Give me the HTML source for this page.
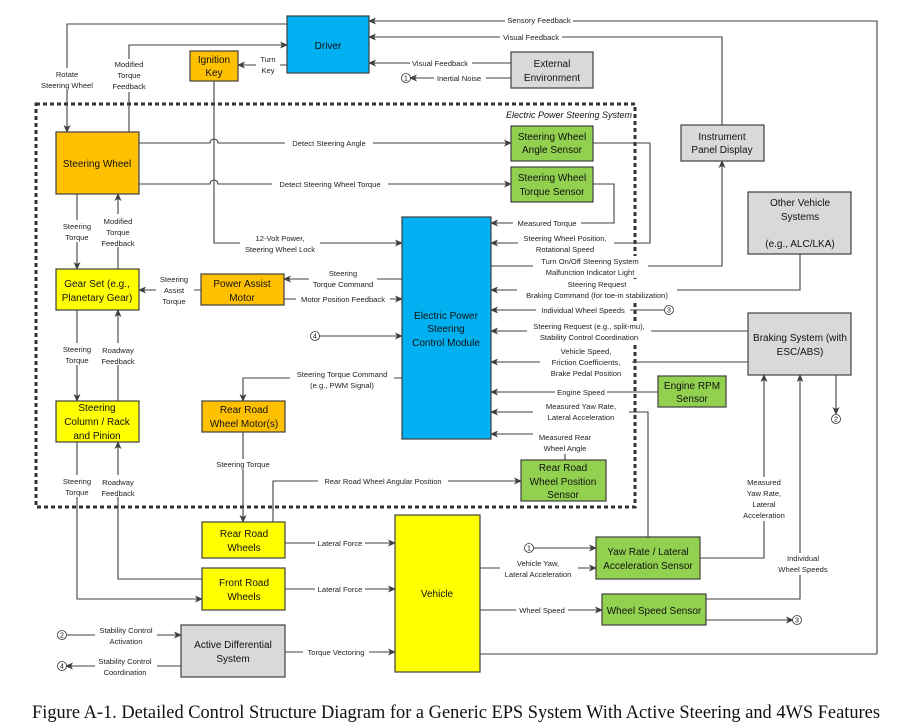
<!DOCTYPE html>
<html><head><meta charset="utf-8"><style>
body{margin:0;background:#fff}
svg{display:block}
text{font-family:"Liberation Sans",sans-serif}
.l{font-size:7.6px;fill:#222;text-anchor:middle}
.b{font-size:10px;fill:#111;text-anchor:middle}
.ln{stroke:#404040;stroke-width:1.1;fill:none}
.bx{stroke:#404040;stroke-width:1.2}
.bg{fill:#fff}
</style></head><body>
<svg width="902" height="725" viewBox="0 0 902 725">
<defs><marker id="a" markerWidth="8" markerHeight="8" refX="7" refY="4" orient="auto" markerUnits="userSpaceOnUse"><path d="M0,0.5 L8,4 L0,7.5 L2,4 Z" fill="#404040"/></marker></defs>

<rect x="36" y="104" width="599" height="403" fill="none" stroke="#333" stroke-width="3" stroke-dasharray="4,3"/>
<text x="632" y="118" style="font-size:9px;font-style:italic;text-anchor:end;fill:#111">Electric Power Steering System</text>

<g class="ln">
<path d="M877,654 H480 M877,654 V21 H369" marker-end="url(#a)"/>
<path d="M722,125 V37 H369" marker-end="url(#a)"/>
<path d="M511,63 H369" marker-end="url(#a)"/>
<path d="M511,78 H410" marker-end="url(#a)"/>
<path d="M287,24 H67 V132" marker-end="url(#a)"/>
<path d="M129,132 V45 H287" marker-end="url(#a)"/>
<path d="M287,65 H238" marker-end="url(#a)"/>
<path d="M214,81 V243 H402" marker-end="url(#a)"/>
<path d="M139,143 H210 a4,4 0 0 1 8,0 H511" marker-end="url(#a)"/>
<path d="M139,184 H210 a4,4 0 0 1 8,0 H511" marker-end="url(#a)"/>
<path d="M593,143 H650 V243 H491" marker-end="url(#a)"/>
<path d="M593,184 H614 V223 H491" marker-end="url(#a)"/>
<path d="M491,266 H722 V161" marker-end="url(#a)"/>
<path d="M800,254 V290 H491" marker-end="url(#a)"/>
<path d="M665,310 H491" marker-end="url(#a)"/>
<path d="M748,331 H491" marker-end="url(#a)"/>
<path d="M748,362 H491" marker-end="url(#a)"/>
<path d="M658,392 H491" marker-end="url(#a)"/>
<path d="M648,537 V412 H491" marker-end="url(#a)"/>
<path d="M565,460 V452 M535,434 H491" marker-end="url(#a)"/>
<path d="M273,522 V481 H521" marker-end="url(#a)"/>
<path d="M402,378 H243 V401" marker-end="url(#a)"/>
<path d="M243,432 V522" marker-end="url(#a)"/>
<path d="M402,279 H284" marker-end="url(#a)"/>
<path d="M284,299 H402" marker-end="url(#a)"/>
<path d="M201,290 H139" marker-end="url(#a)"/>
<path d="M319,336 H402" marker-end="url(#a)"/>
<path d="M77,194 V269" marker-end="url(#a)"/>
<path d="M118,269 V194" marker-end="url(#a)"/>
<path d="M77,310 V401" marker-end="url(#a)"/>
<path d="M118,401 V310" marker-end="url(#a)"/>
<path d="M77,442 V599 H202" marker-end="url(#a)"/>
<path d="M202,579 H118 V442" marker-end="url(#a)"/>
<path d="M285,543 H395" marker-end="url(#a)"/>
<path d="M285,589 H395" marker-end="url(#a)"/>
<path d="M285,652 H395" marker-end="url(#a)"/>
<path d="M66,635 H181" marker-end="url(#a)"/>
<path d="M181,666 H66" marker-end="url(#a)"/>
<path d="M480,568 H596" marker-end="url(#a)"/>
<path d="M533,548 H596" marker-end="url(#a)"/>
<path d="M480,610 H602" marker-end="url(#a)"/>
<path d="M700,558 H764 V375" marker-end="url(#a)"/>
<path d="M706,599 H800 V375" marker-end="url(#a)"/>
<path d="M706,620 H793" marker-end="url(#a)"/>
<path d="M836,375 V414" marker-end="url(#a)"/>
</g>

<g style="font-size:9px;text-anchor:middle;fill:#111" stroke="#333" stroke-width="0.8">
<circle cx="406" cy="78" r="4.5" fill="#fff"/><circle cx="669" cy="310" r="4.5" fill="#fff"/>
<circle cx="315" cy="336" r="4.5" fill="#fff"/><circle cx="62" cy="635" r="4.5" fill="#fff"/>
<circle cx="62" cy="666" r="4.5" fill="#fff"/><circle cx="529" cy="548" r="4.5" fill="#fff"/>
<circle cx="797" cy="620" r="4.5" fill="#fff"/><circle cx="836" cy="419" r="4.5" fill="#fff"/>
</g>
<g style="font-size:7px;text-anchor:middle;fill:#111">
<text x="406" y="80.5">1</text><text x="669" y="312.5">3</text><text x="315" y="338.5">4</text>
<text x="62" y="637.5">2</text><text x="62" y="668.5">4</text><text x="529" y="550.5">1</text>
<text x="797" y="622.5">3</text><text x="836" y="421.5">2</text>
</g>

<g class="l">
<rect class="bg" x="505" y="15" width="68" height="10"/><text x="539" y="23">Sensory Feedback</text>
<rect class="bg" x="500" y="32" width="62" height="10"/><text x="531" y="40">Visual Feedback</text>
<rect class="bg" x="410" y="58" width="62" height="10"/><text x="440" y="66">Visual Feedback</text>
<rect class="bg" x="434" y="73" width="52" height="10"/><text x="459" y="81">Inertial Noise</text>
<rect class="bg" x="38" y="68" width="58" height="22"/><text x="67" y="77">Rotate</text><text x="67" y="88">Steering Wheel</text>
<rect class="bg" x="108" y="59" width="42" height="33"/><text x="129" y="67">Modified</text><text x="129" y="78">Torque</text><text x="129" y="89">Feedback</text>
<rect class="bg" x="256" y="55" width="24" height="22"/><text x="268" y="62">Turn</text><text x="268" y="73">Key</text>
<rect class="bg" x="285" y="138" width="88" height="10"/><text x="329" y="146">Detect Steering Angle</text>
<rect class="bg" x="272" y="179" width="116" height="10"/><text x="330" y="187">Detect Steering Wheel Torque</text>
<rect class="bg" x="240" y="233" width="80" height="22"/><text x="280" y="241">12-Volt Power,</text><text x="280" y="252">Steering Wheel Lock</text>
<rect class="bg" x="513" y="218" width="68" height="10"/><text x="547" y="226">Measured Torque</text>
<rect class="bg" x="518" y="233" width="96" height="22"/><text x="565" y="241">Steering Wheel Position,</text><text x="565" y="252">Rotational Speed</text>
<rect class="bg" x="533" y="256" width="115" height="22"/><text x="590" y="264">Turn On/Off Steering System</text><text x="590" y="275">Malfunction Indicator Light</text>
<rect class="bg" x="517" y="279" width="160" height="22"/><text x="597" y="287">Steering Request</text><text x="597" y="298">Braking Command (for toe-in stabilization)</text>
<rect class="bg" x="536" y="305" width="94" height="10"/><text x="583" y="313">Individual Wheel Speeds</text>
<rect class="bg" x="527" y="321" width="124" height="22"/><text x="589" y="329">Steering Request (e.g., split-mu),</text><text x="589" y="340">Stability Control Coordination</text>
<rect class="bg" x="540" y="344" width="92" height="33"/><text x="586" y="354">Vehicle Speed,</text><text x="586" y="365">Friction Coefficients,</text><text x="586" y="376">Brake Pedal Position</text>
<rect class="bg" x="555" y="387" width="52" height="10"/><text x="581" y="395">Engine Speed</text>
<rect class="bg" x="533" y="401" width="96" height="22"/><text x="581" y="409">Measured Yaw Rate,</text><text x="581" y="420">Lateral Acceleration</text>
<rect class="bg" x="533" y="432" width="64" height="22"/><text x="565" y="440">Measured Rear</text><text x="565" y="451">Wheel Angle</text>
<rect class="bg" x="290" y="369" width="104" height="22"/><text x="342" y="377">Steering Torque Command</text><text x="342" y="388">(e.g., PWM Signal)</text>
<rect class="bg" x="309" y="268" width="68" height="22"/><text x="343" y="276">Steering</text><text x="343" y="287">Torque Command</text>
<rect class="bg" x="296" y="294" width="94" height="10"/><text x="343" y="302">Motor Position Feedback</text>
<rect class="bg" x="156" y="274" width="38" height="33"/><text x="174" y="282">Steering</text><text x="174" y="293">Assist</text><text x="174" y="304">Torque</text>
<rect class="bg" x="60" y="220" width="34" height="22"/><text x="77" y="229">Steering</text><text x="77" y="240">Torque</text>
<rect class="bg" x="100" y="214" width="38" height="33"/><text x="118" y="224">Modified</text><text x="118" y="235">Torque</text><text x="118" y="246">Feedback</text>
<rect class="bg" x="60" y="343" width="34" height="22"/><text x="77" y="352">Steering</text><text x="77" y="363">Torque</text>
<rect class="bg" x="100" y="343" width="38" height="22"/><text x="118" y="353">Roadway</text><text x="118" y="364">Feedback</text>
<rect class="bg" x="60" y="475" width="34" height="22"/><text x="77" y="484">Steering</text><text x="77" y="495">Torque</text>
<rect class="bg" x="100" y="475" width="38" height="22"/><text x="118" y="485">Roadway</text><text x="118" y="496">Feedback</text>
<rect class="bg" x="212" y="459" width="62" height="10"/><text x="243" y="467">Steering Torque</text>
<rect class="bg" x="318" y="476" width="130" height="10"/><text x="383" y="484">Rear Road Wheel Angular Position</text>
<rect class="bg" x="315" y="538" width="50" height="10"/><text x="340" y="546">Lateral Force</text>
<rect class="bg" x="315" y="584" width="50" height="10"/><text x="340" y="592">Lateral Force</text>
<rect class="bg" x="303" y="647" width="66" height="10"/><text x="336" y="655">Torque Vectoring</text>
<rect class="bg" x="95" y="625" width="62" height="22"/><text x="126" y="633">Stability Control</text><text x="126" y="644">Activation</text>
<rect class="bg" x="95" y="656" width="62" height="22"/><text x="125" y="664">Stability Control</text><text x="125" y="675">Coordination</text>
<rect class="bg" x="500" y="558" width="78" height="22"/><text x="538" y="566">Vehicle Yaw,</text><text x="538" y="577">Lateral Acceleration</text>
<rect class="bg" x="516" y="605" width="52" height="10"/><text x="542" y="613">Wheel Speed</text>
<rect class="bg" x="740" y="477" width="48" height="44"/><text x="764" y="485">Measured</text><text x="764" y="496">Yaw Rate,</text><text x="764" y="507">Lateral</text><text x="764" y="518">Acceleration</text>
<rect class="bg" x="776" y="553" width="54" height="22"/><text x="803" y="561">Individual</text><text x="803" y="572">Wheel Speeds</text>
</g>

<g class="bx">
<rect x="287" y="16" width="82" height="57" fill="#00B0F0"/>
<rect x="190" y="51" width="48" height="30" fill="#FFC000"/>
<rect x="511" y="52" width="82" height="36" fill="#D9D9D9"/>
<rect x="56" y="132" width="83" height="62" fill="#FFC000"/>
<rect x="511" y="126" width="82" height="35" fill="#92D050"/>
<rect x="511" y="167" width="82" height="35" fill="#92D050"/>
<rect x="681" y="125" width="83" height="36" fill="#D9D9D9"/>
<rect x="748" y="192" width="103" height="62" fill="#D9D9D9"/>
<rect x="402" y="217" width="89" height="222" fill="#00B0F0"/>
<rect x="56" y="269" width="83" height="41" fill="#FFFF00"/>
<rect x="201" y="274" width="83" height="31" fill="#FFC000"/>
<rect x="748" y="313" width="103" height="62" fill="#D9D9D9"/>
<rect x="658" y="376" width="68" height="31" fill="#92D050"/>
<rect x="56" y="401" width="83" height="41" fill="#FFFF00"/>
<rect x="202" y="401" width="83" height="31" fill="#FFC000"/>
<rect x="521" y="460" width="85" height="41" fill="#92D050"/>
<rect x="395" y="515" width="85" height="157" fill="#FFFF00"/>
<rect x="202" y="522" width="83" height="36" fill="#FFFF00"/>
<rect x="596" y="537" width="104" height="42" fill="#92D050"/>
<rect x="202" y="568" width="83" height="42" fill="#FFFF00"/>
<rect x="602" y="594" width="104" height="31" fill="#92D050"/>
<rect x="181" y="625" width="104" height="52" fill="#D9D9D9"/>
</g>
<g class="b">
<text x="328" y="49">Driver</text>
<text x="214" y="63">Ignition</text><text x="214" y="76">Key</text>
<text x="552" y="67">External</text><text x="552" y="81">Environment</text>
<text x="97" y="167">Steering Wheel</text>
<text x="552" y="140">Steering Wheel</text><text x="552" y="153">Angle Sensor</text>
<text x="552" y="181">Steering Wheel</text><text x="552" y="195">Torque Sensor</text>
<text x="722" y="140">Instrument</text><text x="722" y="153">Panel Display</text>
<text x="800" y="206">Other Vehicle</text><text x="800" y="220">Systems</text><text x="800" y="247">(e.g., ALC/LKA)</text>
<text x="446" y="319">Electric Power</text><text x="446" y="332">Steering</text><text x="446" y="346">Control Module</text>
<text x="97" y="287">Gear Set (e.g.,</text><text x="97" y="301">Planetary Gear)</text>
<text x="242" y="287">Power Assist</text><text x="242" y="301">Motor</text>
<text x="800" y="341">Braking System (with</text><text x="800" y="355">ESC/ABS)</text>
<text x="692" y="389">Engine RPM</text><text x="692" y="402">Sensor</text>
<text x="97" y="411">Steering</text><text x="97" y="425">Column / Rack</text><text x="97" y="439">and Pinion</text>
<text x="244" y="413">Rear Road</text><text x="244" y="427">Wheel Motor(s)</text>
<text x="563" y="471">Rear Road</text><text x="563" y="485">Wheel Position</text><text x="563" y="498">Sensor</text>
<text x="437" y="597">Vehicle</text>
<text x="244" y="537">Rear Road</text><text x="244" y="551">Wheels</text>
<text x="648" y="555">Yaw Rate / Lateral</text><text x="648" y="569">Acceleration Sensor</text>
<text x="244" y="586">Front Road</text><text x="244" y="600">Wheels</text>
<text x="654" y="614">Wheel Speed Sensor</text>
<text x="233" y="648">Active Differential</text><text x="233" y="662">System</text>
</g>
<text x="32" y="718" textLength="848" lengthAdjust="spacingAndGlyphs" style="font-family:'Liberation Serif',serif;font-size:18.5px;fill:#111">Figure A-1. Detailed Control Structure Diagram for a Generic EPS System With Active Steering and 4WS Features</text>
</svg>
</body></html>
